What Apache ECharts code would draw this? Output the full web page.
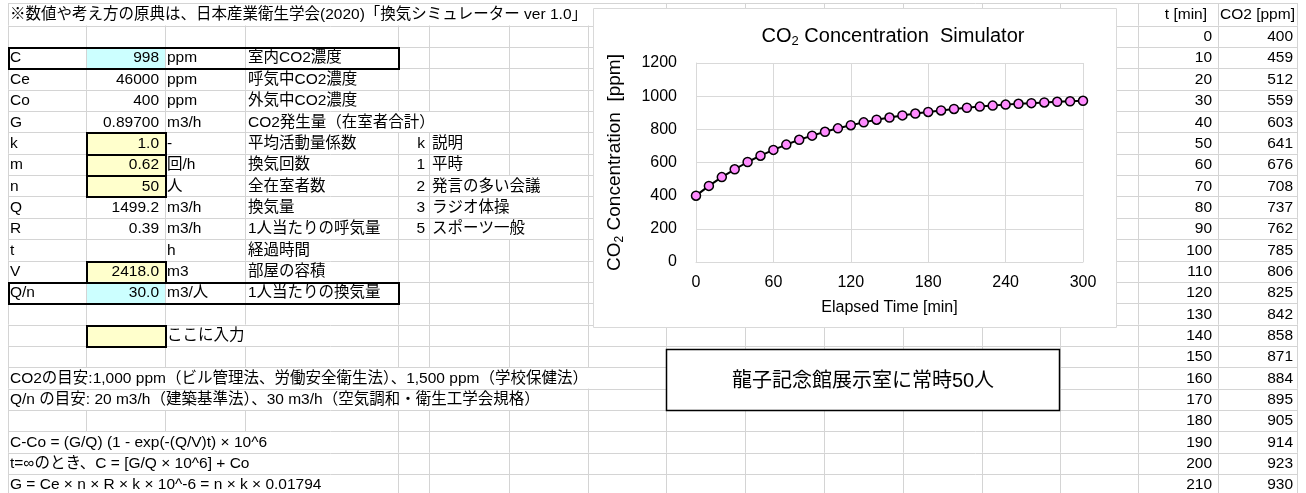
<!DOCTYPE html>
<html>
<head>
<meta charset="utf-8">
<script src="https://cdn.jsdelivr.net/npm/echarts@6.0.0/dist/echarts.min.js"></script>
<style>
  html, body { margin: 0; padding: 0; background: #fff; }
  #sheet { width: 1306px; height: 493px; }
</style>
</head>
<body>
<div id="sheet"></div>
<script>
// ---- Simulation results: elapsed time [min] and CO2 concentration [ppm] ----
const tMin = [0, 10, 20, 30, 40, 50, 60, 70, 80, 90, 100, 110, 120, 130, 140, 150,
              160, 170, 180, 190, 200, 210, 220, 230, 240, 250, 260, 270, 280, 290, 300];
const co2Ppm = [400, 459, 512, 559, 603, 641, 676, 708, 737, 762, 785, 806, 825, 842, 858, 871,
                884, 895, 905, 914, 923, 930, 937, 943, 949, 954, 958, 962, 966, 969, 972];
const tableRowsShown = 22;
const tableHeaders = ['t [min]', 'CO2 [ppm]'];

// ---- Parameter block ----
const paramNames  = ['C', 'Ce', 'Co', 'G', 'k', 'm', 'n', 'Q', 'R', 't', 'V', 'Q/n'];
const paramValues = ['998', '46000', '400', '0.89700', '1.0', '0.62', '50', '1499.2', '0.39', '', '2418.0', '30.0'];
const paramUnits  = ['ppm', 'ppm', 'ppm', 'm3/h', '-', '回/h', '人', 'm3/h', 'm3/h', 'h', 'm3', 'm3/人'];
const paramNotes  = ['室内CO2濃度', '呼気中CO2濃度', '外気中CO2濃度', 'CO2発生量（在室者合計）', '平均活動量係数',
                     '換気回数', '全在室者数', '換気量', '1人当たりの呼気量', '経過時間', '部屋の容積', '1人当たりの換気量'];
const kLevels = ['k', '1', '2', '3', '5'];
const kNotes  = ['説明', '平時', '発言の多い会議', 'ラジオ体操', 'スポーツ一般'];

const titleNote = '※数値や考え方の原典は、日本産業衛生学会(2020)「換気シミュレーター ver 1.0」';
const inputHint = 'ここに入力';
const guideNotes = [
  'CO2の目安:1,000 ppm（ビル管理法、労働安全衛生法）、1,500 ppm（学校保健法）',
  'Q/n の目安: 20 m3/h（建築基準法）、30 m3/h（空気調和・衛生工学会規格）'
];
const formulaNotes = [
  'C-Co = (G/Q) (1 - exp(-(Q/V)t) × 10^6',
  't=∞のとき、C = [G/Q × 10^6] + Co',
  'G = Ce × n × R × k × 10^-6 = n × k × 0.01794'
];
const boxNote = '龍子記念館展示室に常時50人';
const chartTitle = ['CO', '2', ' Concentration  Simulator'];
const yName = ['CO', '2', ' Concentration  [ppm]'];
const xName = 'Elapsed Time [min]';

// ---- Sheet geometry ----
const FONT_FAMILY = '"Liberation Sans", "Noto Sans CJK JP", sans-serif';
const BODY = 15.5;
const COLS = [8, 86, 165, 245, 398, 429, 509, 588, 666, 745, 824, 903, 982, 1060, 1138, 1218, 1297];
const NROWS = 23;
function rowTop(r) {
  if (r === 1) return 3;
  if (r === 2) return 25.5;
  return 47 + (r - 3) * 21.35;
}
function rowMid(r) { return (rowTop(r) + rowTop(r + 1)) / 2; }
const px = v => Math.round(v) + 0.5;

const measureCtx = document.createElement('canvas').getContext('2d');
function textWidth(s, size) {
  measureCtx.font = size + 'px ' + FONT_FAMILY;
  return measureCtx.measureText(s).width;
}

// cell texts
const cells = [];
cells.push({ r: 1, x: 10, text: titleNote, align: 'left' });
paramNames.forEach((n, i) => {
  const r = 3 + i;
  cells.push({ r, x: 10, text: n, align: 'left' });
  cells.push({ r, x: 159, text: paramValues[i], align: 'right' });
  cells.push({ r, x: 167, text: paramUnits[i], align: 'left' });
  cells.push({ r, x: 248, text: paramNotes[i], align: 'left' });
});
kLevels.forEach((k, i) => {
  const r = 7 + i;
  cells.push({ r, x: 425, text: k, align: 'right' });
  cells.push({ r, x: 432, text: kNotes[i], align: 'left' });
});
cells.push({ r: 16, x: 167, text: inputHint, align: 'left' });
guideNotes.forEach((s, i) => cells.push({ r: 18 + i, x: 10, text: s, align: 'left' }));
formulaNotes.forEach((s, i) => cells.push({ r: 21 + i, x: 10, text: s, align: 'left' }));
cells.push({ r: 1, x: 1207, text: tableHeaders[0], align: 'right' });
cells.push({ r: 1, x: 1220, text: tableHeaders[1], align: 'left' });
for (let i = 0; i < tableRowsShown; i++) {
  cells.push({ r: 2 + i, x: 1212, text: String(tMin[i]), align: 'right' });
  cells.push({ r: 2 + i, x: 1293, text: String(co2Ppm[i]), align: 'right' });
}

// text overflowing into neighbouring cells hides the cell borders it crosses
const hidden = {};
cells.forEach(c => {
  if (c.align !== 'left') return;
  const end = c.x + textWidth(c.text, BODY);
  COLS.forEach(b => {
    if (b > c.x && b < end + 2) {
      (hidden[c.r] = hidden[c.r] || new Set()).add(b);
    }
  });
});

const elements = [];
const GRID_COLOR = '#D4D4D4';
// horizontal cell borders
for (let r = 1; r <= NROWS + 1; r++) {
  const y = px(rowTop(r));
  elements.push({ type: 'line', z: -30, silent: true,
    shape: { x1: COLS[0], y1: y, x2: COLS[COLS.length - 1] + 1, y2: y },
    style: { stroke: GRID_COLOR, lineWidth: 1 } });
}
// vertical cell borders
for (let r = 1; r <= NROWS; r++) {
  COLS.forEach(b => {
    if (hidden[r] && hidden[r].has(b)) return;
    elements.push({ type: 'line', z: -30, silent: true,
      shape: { x1: px(b), y1: rowTop(r), x2: px(b), y2: rowTop(r + 1) },
      style: { stroke: GRID_COLOR, lineWidth: 1 } });
  });
}
// filled input / result cells
const CYAN = '#CCFFFF', YELLOW = '#FFFFCC';
const fills = [[3, CYAN], [7, YELLOW], [8, YELLOW], [9, YELLOW], [13, YELLOW], [14, CYAN], [16, YELLOW]];
fills.forEach(([r, color]) => {
  elements.push({ type: 'rect', z: -28, silent: true,
    shape: { x: COLS[1] + 1, y: rowTop(r) + 1, width: COLS[2] - COLS[1] - 1, height: rowTop(r + 1) - rowTop(r) - 1 },
    style: { fill: color } });
});
// thick outlines
const boxes = [[COLS[0], COLS[4], 3], [COLS[0], COLS[4], 14],
               [COLS[1], COLS[2], 7], [COLS[1], COLS[2], 8], [COLS[1], COLS[2], 9],
               [COLS[1], COLS[2], 13], [COLS[1], COLS[2], 16]];
boxes.forEach(([x0, x1, r]) => {
  const y0 = Math.round(rowTop(r)), y1 = Math.round(rowTop(r + 1));
  elements.push({ type: 'rect', z: -27, silent: true,
    shape: { x: x0 + 1, y: y0 + 1, width: x1 - x0, height: y1 - y0 },
    style: { fill: 'none', stroke: '#000', lineWidth: 2 } });
});
// cell texts
cells.forEach(c => {
  if (!c.text) return;
  elements.push({ type: 'text', z: -26, silent: true,
    x: c.x, y: rowMid(c.r) + 0.5,
    style: { text: c.text, fill: '#000', font: BODY + 'px ' + FONT_FAMILY,
             align: c.align, textAlign: c.align, verticalAlign: 'middle', textVerticalAlign: 'middle' } });
});
// chart area background
elements.push({ type: 'rect', z: -20, silent: true,
  shape: { x: 593.5, y: 8.5, width: 523, height: 319 },
  style: { fill: '#fff', stroke: '#D9D9D9', lineWidth: 1 } });
// text box
elements.push({ type: 'rect', z: -20, silent: true,
  shape: { x: 666.5, y: 349.5, width: 393, height: 61 },
  style: { fill: '#fff', stroke: '#000', lineWidth: 1.5 } });
elements.push({ type: 'text', z: -19, silent: true,
  x: 863, y: 381,
  style: { text: boxNote, fill: '#000', font: '20px ' + FONT_FAMILY,
           align: 'center', textAlign: 'center', verticalAlign: 'middle', textVerticalAlign: 'middle' } });

const subRich = (size) => ({
  a: { fontSize: size, fontFamily: FONT_FAMILY, fontWeight: 'normal', color: '#000', lineHeight: size + 4 },
  s: { fontSize: Math.round(size * 0.65), fontFamily: FONT_FAMILY, fontWeight: 'normal', color: '#000',
       lineHeight: Math.round(size * 0.65), verticalAlign: 'bottom' }
});

const chart = echarts.init(document.getElementById('sheet'), null, { renderer: 'canvas' });
chart.setOption({
  animation: false,
  backgroundColor: '#fff',
  graphic: { elements },
  title: {
    text: '{a|' + chartTitle[0] + '}{s|' + chartTitle[1] + '}{a|' + chartTitle[2] + '}',
    left: 888, top: 19, textAlign: 'center',
    textStyle: { fontWeight: 'normal', rich: subRich(20) }
  },
  grid: { left: 696, right: 1306 - 1083, top: 63, bottom: 493 - 262, containLabel: false },
  xAxis: {
    type: 'value', min: 0, max: 300, interval: 60,
    name: xName, nameLocation: 'middle', nameGap: 38,
    nameTextStyle: { fontSize: 16, fontFamily: FONT_FAMILY, color: '#000' },
    axisLine: { show: true, lineStyle: { color: '#D9D9D9', width: 1 } },
    axisTick: { show: false },
    axisLabel: { fontSize: 16, fontFamily: FONT_FAMILY, color: '#000', margin: 13 },
    splitLine: { show: true, lineStyle: { color: '#D9D9D9', width: 1 } }
  },
  yAxis: {
    type: 'value', min: 0, max: 1200, interval: 200,
    name: '{a|' + yName[0] + '}{s|' + yName[1] + '}{a|' + yName[2] + '}',
    nameLocation: 'middle', nameRotate: 90, nameGap: 70,
    nameTextStyle: { rich: subRich(19) },
    axisLine: { show: true, lineStyle: { color: '#D9D9D9', width: 1 } },
    axisTick: { show: false },
    axisLabel: { fontSize: 16, fontFamily: FONT_FAMILY, color: '#000', margin: 19,
                 formatter: v => String(v) },
    splitLine: { show: true, lineStyle: { color: '#D9D9D9', width: 1 } }
  },
  series: [{
    type: 'line',
    data: tMin.map((t, i) => [t, co2Ppm[i]]),
    symbol: 'circle', symbolSize: 9,
    lineStyle: { color: '#000', width: 2 },
    itemStyle: { color: '#FF8CFF', borderColor: '#000', borderWidth: 1.5 },
    z: 3
  }]
});
</script>
</body>
</html>
